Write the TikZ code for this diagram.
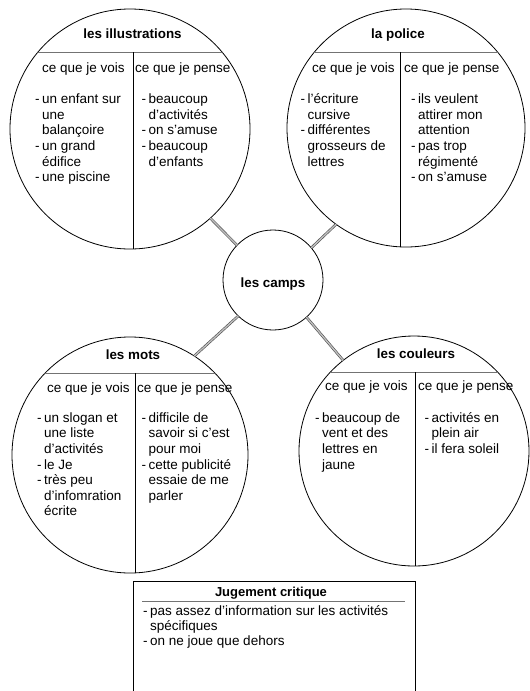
\documentclass[tikz,border=0pt]{standalone}
\usepackage{fontspec}
\setmainfont{Liberation Sans}
\newcommand\itdash{\llap{-\hspace{2.6pt}}}
\newcommand\topstrut{\rule{0pt}{11pt}}
\begin{document}
\begin{tikzpicture}[x=1pt,y=-1pt,
  circ/.style={circle,draw,line width=0.8pt,inner sep=0pt,outer sep=0pt},
  hdrline/.style={draw=black!55,line width=0.8pt},
  divline/.style={draw,line width=0.8pt},
  ttl/.style={font=\fontsize{13.4}{15.6}\selectfont\bfseries,inner sep=0pt,anchor=base},
  col/.style={font=\fontsize{13.5}{15.6}\selectfont,inner sep=0pt,anchor=base west},
  items/.style={font=\fontsize{13.5}{15.6}\selectfont,inner sep=0pt,anchor=north west,align=left},
  conn/.style={draw=black!70,line width=0.6pt,double=black!25,double distance=1.4pt},
]
\useasboundingbox (0,0) rectangle (530,691);

% circles
\node[circ,minimum size=240pt] (tl) at (130,129) {};
\node[circ,minimum size=238pt] (tr) at (406,128) {};
\node[circ,minimum size=236pt] (bl) at (130,455) {};
\node[circ,minimum size=230pt] (br) at (414,451) {};
\node[circ,minimum size=100pt] (camp) at (273,280) {};
\node[ttl] (camptxt) at (273,287.5) {les camps};

% header lines and dividers
\begin{scope}
\clip (130,129) circle[radius=120pt];
\draw[hdrline] (0,52) -- (260,52);
\draw[divline] (133,52) -- (133,260);
\end{scope}
\begin{scope}
\clip (406,128) circle[radius=119pt];
\draw[hdrline] (280,52) -- (530,52);
\draw[divline] (400,52) -- (400,260);
\end{scope}
\begin{scope}
\clip (130,455) circle[radius=118pt];
\draw[hdrline] (0,373) -- (260,373);
\draw[divline] (135,373) -- (135,580);
\end{scope}
\begin{scope}
\clip (414,451) circle[radius=115pt];
\draw[hdrline] (290,372) -- (530,372);
\draw[divline] (415,372) -- (415,580);
\end{scope}

% connectors
\draw[conn] (camp.136) -- (tl.312);
\draw[conn] (camp.40) -- (tr.234);
\draw[conn] (camp.226) -- (bl.57);
\draw[conn] (camp.312) -- (br.128);

% top left
\node[ttl] (tlt) at (132.5,38.5) {les illustrations};
\node[col] (tlv) at (42,72) {ce que je vois};
\node[col] (tlp) at (135,72) {ce que je pense};
\node[items] (tli) at (42,92.5) {\topstrut\itdash un enfant sur\\une\\balançoire\\\itdash un grand\\édifice\\\itdash une piscine};
\node[items] (tlr) at (148.5,92.5) {\topstrut\itdash beaucoup\\d’activités\\\itdash on s’amuse\\\itdash beaucoup\\d’enfants};

% top right
\node[ttl] (trt) at (398,38.5) {la police};
\node[col] (trv) at (312,72) {ce que je vois};
\node[col] (trp) at (404,72) {ce que je pense};
\node[items] (tri) at (307.5,92.5) {\topstrut\itdash l’écriture\\cursive\\\itdash différentes\\grosseurs de\\lettres};
\node[items] (trr) at (418,92.5) {\topstrut\itdash ils veulent\\attirer mon\\attention\\\itdash pas trop\\régimenté\\\itdash on s’amuse};

% bottom left
\node[ttl] (blt) at (133,359) {les mots};
\node[col] (blv) at (47,392.5) {ce que je vois};
\node[col] (blp) at (137,392.5) {ce que je pense};
\node[items] (bli) at (44,411) {\topstrut\itdash un slogan et\\une liste\\d’activités\\\itdash le Je\\\itdash très peu\\d’infomration\\écrite};
\node[items] (blr) at (148.5,411) {\topstrut\itdash difficile de\\savoir si c’est\\pour moi\\\itdash cette publicité\\essaie de me\\parler};

% bottom right
\node[ttl] (brt) at (416,358) {les couleurs};
\node[col] (brv) at (325,390.5) {ce que je vois};
\node[col] (brp) at (418,390.5) {ce que je pense};
\node[items] (bri) at (322,411) {\topstrut\itdash beaucoup de\\vent et des\\lettres en\\jaune};
\node[items] (brr) at (431.5,411) {\topstrut\itdash activités en\\plein air\\\itdash il fera soleil};

% judgement box
\draw[line width=0.8pt] (133,691) -- (133,581) -- (415,581) -- (415,691);
\draw[hdrline] (142,601) -- (405,601);
\node[ttl,font=\fontsize{13}{15}\selectfont\bfseries] (jt) at (271,596) {Jugement critique};
\node[items,font=\fontsize{13.5}{15}\selectfont] (ji) at (150,604) {\topstrut\itdash pas assez d’information sur les activités\\spécifiques\\\itdash on ne joue que dehors};
\end{tikzpicture}
\end{document}
